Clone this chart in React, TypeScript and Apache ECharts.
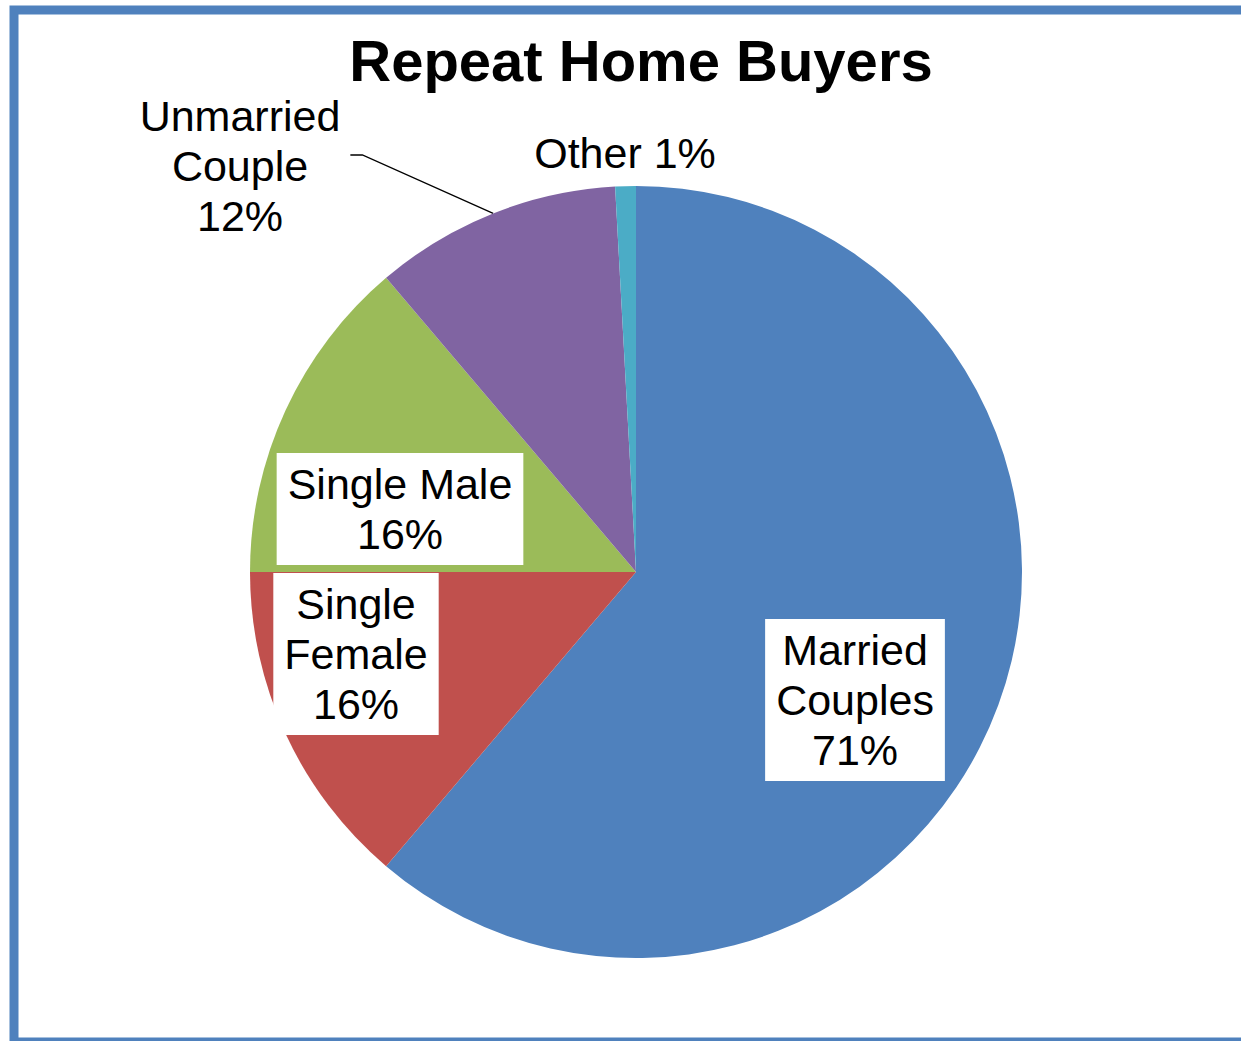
import React, { useEffect, useRef } from 'react';
import * as echarts from 'echarts';

const categories = ['Married Couples', 'Single Female', 'Single Male', 'Unmarried Couple', 'Other'];
const labelNames = ['Married\nCouples', 'Single\nFemale', 'Single Male', 'Unmarried\nCouple', 'Other'];
const labelSeparators = ['\n', '\n', '\n', '\n', ' '];
const values = [71, 16, 16, 12, 1];
const colors = ['#4F81BD', '#C0504D', '#9BBB59', '#8064A2', '#4BACC6'];
const insideLabel = [true, true, true, false, false];
const labelCenters = [
  [855, 700],
  [356, 654],
  [400, 509],
  [240, 166],
  [625, 153],
];

const FONT = "'Liberation Sans', Arial, Helvetica, sans-serif";

export default function App() {
  const ref = useRef<HTMLDivElement>(null);
  useEffect(() => {
    if (!ref.current) return;
    const chart = echarts.init(ref.current, undefined, { renderer: 'svg' });
    const option: any = {
      animation: false,
      backgroundColor: '#ffffff',
      title: {
        text: 'Repeat Home Buyers',
        left: 636,
        textAlign: 'center',
        top: 26,
        textStyle: { fontFamily: FONT, fontSize: 58, fontWeight: 'bold', color: '#000' },
      },
      graphic: [
        {
          type: 'rect',
          shape: { x: 14, y: 10, width: 1260, height: 1032 },
          style: { fill: 'none', stroke: '#4F81BD', lineWidth: 9 },
          silent: true,
          z: 100,
        },
      ],
      series: [
        {
          type: 'pie',
          center: [636, 572],
          radius: 386,
          startAngle: 90,
          clockwise: true,
          avoidLabelOverlap: false,
          emphasis: { disabled: true },
          itemStyle: { borderWidth: 0 },
          label: {
            fontFamily: FONT,
            fontSize: 43,
            lineHeight: 50,
            color: '#000',
            formatter: (p: any) => labelNames[p.dataIndex] + labelSeparators[p.dataIndex] + p.value + '%',
          },
          labelLine: {
            lineStyle: { color: '#000', width: 1.3 },
            length: 20,
            length2: 20,
          },
          labelLayout: (params: any) => {
            const i = params.dataIndex;
            const [x, y] = labelCenters[i];
            const res: any = { x, y, align: 'center', verticalAlign: 'middle' };
            if (i === 3 && params.labelLinePoints) {
              const right = x + params.labelRect.width / 2;
              res.labelLinePoints = [
                params.labelLinePoints[0],
                [right + 22, y - 11],
                [right + 10, y - 11],
              ];
            }
            return res;
          },
          data: categories.map((name, i) => ({
            name,
            value: values[i],
            itemStyle: { color: colors[i] },
            label: insideLabel[i]
              ? { position: 'inside', backgroundColor: '#ffffff', padding: [6, 11] }
              : { position: 'outside' },
            labelLine: { show: i === 3 },
          })),
        },
      ],
    };
    chart.setOption(option);
    return () => chart.dispose();
  }, []);
  return (
    <div
      ref={ref}
      style={{ position: 'absolute', left: 0, top: 0, width: 1241, height: 1041, background: '#fff' }}
    />
  );
}
